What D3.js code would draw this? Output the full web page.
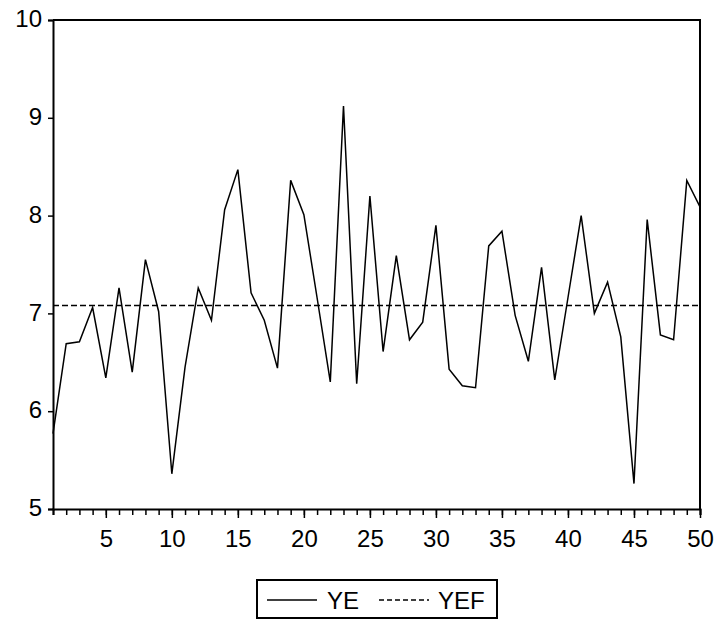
<!DOCTYPE html>
<html>
<head>
<meta charset="utf-8">
<script src="https://cdn.jsdelivr.net/npm/d3@7"></script>
<style>
  body { margin: 0; background: #fff; }
  text { font-family: "Liberation Sans", Arial, sans-serif; fill: #000; }
</style>
</head>
<body>
<div class="chart"></div>
<script>
// observations 1..50
const obs = d3.range(1, 51);

const ye = [5.77, 6.69, 6.71, 7.06, 6.34, 7.26, 6.40, 7.55, 7.02, 5.36,
            6.45, 7.26, 6.93, 8.06, 8.47, 7.21, 6.93, 6.44, 8.36, 8.01,
            7.16, 6.30, 9.12, 6.28, 8.20, 6.61, 7.59, 6.73, 6.91, 7.90,
            6.43, 6.26, 6.24, 7.69, 7.84, 6.98, 6.51, 7.47, 6.32, 7.16,
            8.00, 7.00, 7.32, 6.76, 5.26, 7.96, 6.78, 6.73, 8.36, 8.09];

const yef = 7.08;

const yTicks = [5, 6, 7, 8, 9, 10];
const xLabels = [5, 10, 15, 20, 25, 30, 35, 40, 45, 50];
const seriesNames = ["YE", "YEF"];

const width = 717,
    height = 620;

const margin = {
    top: 20,
    right: 17,
    bottom: 111,
    left: 53
};

const svg = d3.select(".chart")
    .append("svg")
    .attr("width", width)
    .attr("height", height);

const w = width - margin.left - margin.right,
    h = height - margin.top - margin.bottom;

const g = svg.append("g").attr("transform", `translate(${margin.left},${margin.top})`);

const x = d3.scaleLinear().domain([1, 50]).range([0, w]);
const y = d3.scaleLinear().domain([5, 10]).range([h, 0]);

// frame (top + right)
g.append("path")
    .attr("d", `M0,0H${w}V${h}`)
    .attr("fill", "none")
    .attr("stroke", "#000")
    .attr("stroke-width", 2);

// y axis
const yAxis = g.append("g")
    .call(d3.axisLeft(y).tickValues(yTicks).tickSize(5).tickPadding(6).tickFormat(d3.format("d")));
yAxis.select(".domain").attr("stroke-width", 2);
yAxis.selectAll(".tick line").attr("stroke-width", 1.5);
yAxis.selectAll(".tick text").style("font-size", "24px").attr("dy", "0.28em");

// x axis: minor tick for every obs, longer ones with labels every 5
const xAxis = g.append("g")
    .attr("transform", `translate(0,${h})`)
    .call(d3.axisBottom(x).tickValues(obs).tickSize(6).tickFormat(""));
xAxis.select(".domain").attr("stroke-width", 2);
xAxis.selectAll(".tick line").attr("stroke-width", 1.5);

const xMajor = g.append("g")
    .attr("transform", `translate(0,${h})`)
    .call(d3.axisBottom(x).tickValues(xLabels).tickSize(9).tickPadding(12).tickFormat(d3.format("d")));
xMajor.select(".domain").remove();
xMajor.selectAll(".tick line").attr("stroke-width", 1.5);
xMajor.selectAll(".tick text").style("font-size", "24px");

// YEF dashed line
g.append("path")
    .datum(obs)
    .attr("fill", "none")
    .attr("stroke", "#000")
    .attr("stroke-width", 1.5)
    .attr("stroke-dasharray", "6,3")
    .attr("d", d3.line().x(d => x(d)).y(() => y(yef)));

// YE line
g.append("path")
    .datum(ye)
    .attr("fill", "none")
    .attr("stroke", "#000")
    .attr("stroke-width", 1.5)
    .attr("stroke-linejoin", "miter")
    .attr("d", d3.line().x((d, i) => x(obs[i])).y(d => y(d)));

// legend
const legend = svg.append("g").attr("transform", "translate(257,580)");
legend.append("rect")
    .attr("width", 240)
    .attr("height", 38)
    .attr("fill", "none")
    .attr("stroke", "#000")
    .attr("stroke-width", 2);

const items = legend.selectAll(".item")
    .data(seriesNames)
    .enter().append("g")
    .attr("class", "item")
    .attr("transform", (d, i) => `translate(${10 + i * 112},20)`);

items.append("line")
    .attr("x1", 0)
    .attr("x2", 50)
    .attr("stroke", "#000")
    .attr("stroke-width", 1.4)
    .attr("stroke-dasharray", (d, i) => i ? "5,3" : null);

items.append("text")
    .attr("x", (d, i) => i ? 59 : 60)
    .attr("dy", "0.36em")
    .style("font-size", "24px")
    .text(d => d);
</script>
</body>
</html>
